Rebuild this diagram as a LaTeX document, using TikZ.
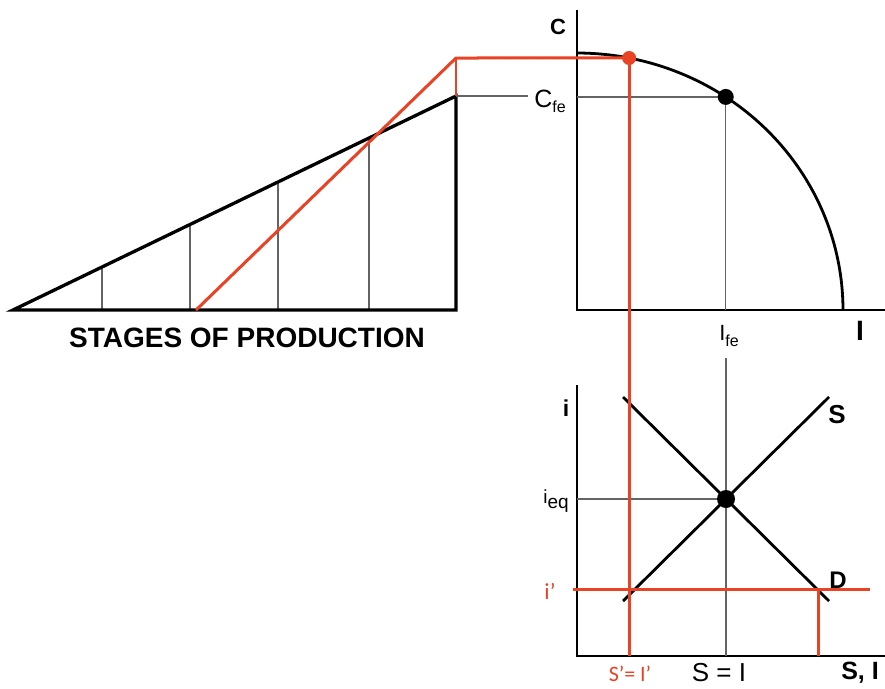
\documentclass[tikz,border=0pt]{standalone}
\usepackage{fontspec}
\setmainfont{Liberation Sans}
\newfontfamily\redfont{Carlito}
\definecolor{redline}{RGB}{234,66,36}
\definecolor{guidegray}{RGB}{100,100,100}
\newcommand{\fsz}[1]{\fontsize{#1}{#1}\selectfont}
\begin{document}
\begin{tikzpicture}[x=1pt,y=-1pt,
		axis/.style={line width=2.4pt},
		bold line/.style={line width=3.3pt},
		guide/.style={line width=1.3pt,color=guidegray},
		red line/.style={line width=3pt,color=redline},
		blab/.style={inner sep=0pt,font=\fsz{#1}\bfseries},
		rlab/.style={inner sep=0pt,font=\fsz{#1}},
		redlab/.style={inner sep=0pt,text=redline,font=\fsz{#1}\redfont}]
	\useasboundingbox (0,0) rectangle (885,688);
	% stages of production
	\coordinate (T0) at (13,310);
	\coordinate (T1) at (456,310);
	\coordinate (T2) at (456,96);
	\foreach \xs in {102,190,278,369}
		\draw[guide] (\xs,310) -- (\xs,{310-(\xs-13)*(214/443)});
	\draw[bold line,line join=miter] (T0) -- (T2) -- (T1) -- cycle;
	\node[blab=28] (stages) at (247,338) {STAGES OF PRODUCTION};
	% consumption / investment frontier
	\coordinate (O1) at (577,310);
	\coordinate (Ctop) at (577,10);
	\coordinate (Iend) at (885,310);
	\coordinate (Fdot) at ({577+266*cos(56)},{310-257*sin(56)});
	\coordinate (Rdot) at ({577+266*cos(78.7)},{310-257*sin(78.7)});
	\draw[axis] (Ctop) -- (O1) -- (Iend);
	\node[blab=22] (Clab) at (558,27) {C};
	\node[rlab=25] (Cfe) at (550,101) {C\raisebox{-5pt}{\fsz{16}fe}};
	\node[rlab=22] (Ife) at (729,336) {I\raisebox{-6pt}{\fsz{16}fe}};
	\node[blab=28] (Ilab) at (860,331) {I};
	\draw[guide] (T2) -- ([xshift=-6pt]T2 -| Cfe.west);
	\draw[guide] (O1 |- Fdot) -- (Fdot);
	\draw[guide] (Fdot) -- (Fdot |- O1);
	\draw[line width=2.8pt,domain=0:90,samples=80] plot ({577+266*cos(\x)},{310-257*sin(\x)});
	% loanable funds market
	\coordinate (O2) at (577,656);
	\coordinate (itop) at (577,385);
	\coordinate (SIend) at (885,656);
	\coordinate (Eq) at (726,499);
	\draw[axis] (itop) -- (O2) -- (SIend);
	\draw[guide] (726,358) -- (726,656);
	\draw[guide] (O2 |- Eq) -- (Eq);
	\coordinate (D0) at (623,397);
	\coordinate (D1) at (829,601);
	\coordinate (S0) at (623,601);
	\coordinate (S1) at (829,397);
	\draw[line width=2.8pt] (D0) -- (D1);
	\draw[line width=2.8pt] (S0) -- (S1);
	\fill (Eq) circle (9);
	\fill (Fdot) circle (8);
	\node[blab=23] (ilab) at (566,408) {i};
	\node[blab=26] (Slab) at (837,415) {S};
	\node[blab=24] (Dlab) at (838,580) {D};
	\node[rlab=19] (ieq) at (556,501) {i\raisebox{-5pt}{eq}};
	\node[rlab=26] (SeqI) at (719,673) {S = I};
	\node[blab=25] (SIlab) at (860,673) {S, I};
	\node[redlab=23] (iprime) at (550,591) {i’};
	\node[redlab=22] (Sprime) at (630,674) {S’= I’};
	% red path
	\coordinate (R0) at (196,310);
	\coordinate (R1) at (456,58);
	\coordinate (Ilow) at (573,589);
	\coordinate (Ihigh) at (870,589);
	\coordinate (Dcut) at (818,589);
	\draw[red line,line join=round] (R0) -- (R1) -- (Rdot);
	\draw[redline,line width=2pt] (R1) -- (T2);
	\draw[red line] (Rdot) -- (Rdot |- O2);
	\draw[red line] (Ilow) -- (Ihigh);
	\draw[red line] (Dcut) -- (Dcut |- O2);
	\fill[redline] (Rdot) circle (7);
\end{tikzpicture}
\end{document}
